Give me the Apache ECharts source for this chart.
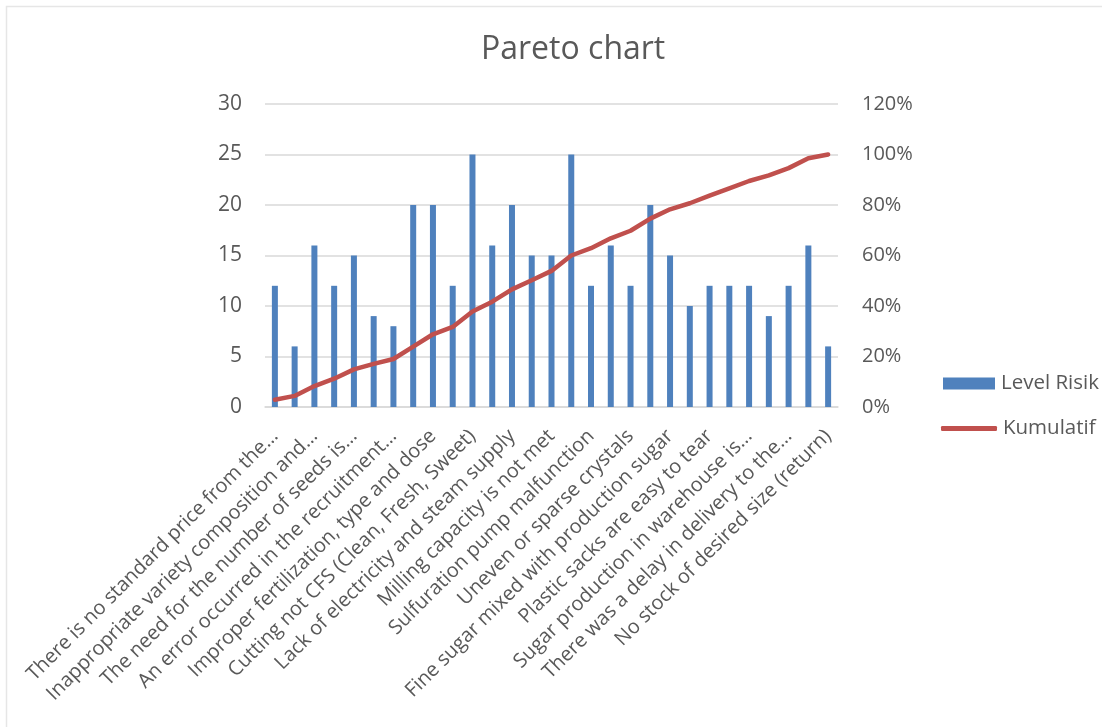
<!DOCTYPE html>
<html>
<head>
<meta charset="utf-8">
<script src="https://cdn.jsdelivr.net/npm/echarts@6.0.0/dist/echarts.min.js"></script>
<style>
  html, body { margin: 0; padding: 0; background: #fff; }
  #chart { width: 1102px; height: 727px; }
</style>
</head>
<body>
<div id="chart"></div>
<script>
;(function() {
  'use strict'

  // risk causes, only every other one has its label printed on the axis
  var categories = [
    'There is no standard price from the…',
    'Sugarcane supply is not continuous',
    'Inappropriate variety composition and…',
    'Late planting schedule',
    'The need for the number of seeds is…',
    'Pest and disease attack',
    'An error occurred in the recruitment…',
    'Cane transport is delayed',
    'Improper fertilization, type and dose',
    'Harvest labour shortage',
    'Cutting not CFS (Clean, Fresh, Sweet)',
    'Cane trash content is high',
    'Lack of electricity and steam supply',
    'Machine breakdown in the mill',
    'Milling capacity is not met',
    'Boiler pressure drops',
    'Sulfuration pump malfunction',
    'Juice purification is not optimal',
    'Uneven or sparse crystals',
    'Evaporator scaling',
    'Fine sugar mixed with production sugar',
    'Centrifuge malfunction',
    'Plastic sacks are easy to tear',
    'Packaging weight is not accurate',
    'Sugar production in warehouse is…',
    'Warehouse humidity is high',
    'There was a delay in delivery to the…',
    'Truck availability is limited',
    'No stock of desired size (return)',
  ]

  var levelRisik = [12, 6, 16, 12, 15, 9, 8, 20, 20, 12, 25, 16, 20, 15, 15, 25, 12, 16, 12, 20, 15, 10, 12, 12, 12, 9, 12, 16, 6]

  // cumulative share in percent
  var kumulatif = [2.9, 4.4, 8.3, 11.2, 14.9, 17.1, 19.0, 23.9, 28.8, 31.7, 37.8, 41.7, 46.6, 50.2, 53.9, 60.0, 62.9, 66.8, 69.8, 74.6, 78.3, 80.7, 83.7, 86.6, 89.5, 91.7, 94.6, 98.5, 100]

  var leftTicks = { min: 0, max: 30, interval: 5 }
  var rightTicks = { min: 0, max: 120, interval: 20 }

  var textColor = '#595959'
  var gridColor = '#d9d9d9'
  var barColor = '#4f81bd'
  var lineColor = '#c0504d'
  var font = '"Open Sans", "DejaVu Sans", sans-serif'

  var chart = echarts.init(document.getElementById('chart'), null, { renderer: 'canvas' })

  var legendText = { fontFamily: font, fontSize: 20.5, color: textColor, padding: [0, 0, 0, 1] }

  var option = {
    animation: false,
    backgroundColor: '#fff',
    textStyle: { fontFamily: font, color: textColor },
    title: {
      text: 'Pareto chart',
      left: 476,
      top: 29,
      textStyle: { fontFamily: font, fontSize: 32, fontWeight: 'normal', color: textColor },
    },
    legend: [
      {
        left: 938,
        top: 368,
        itemWidth: 52,
        itemHeight: 12,
        icon: 'rect',
        textStyle: legendText,
        data: ['Level Risik'],
      },
      {
        left: 936,
        top: 413,
        itemWidth: 56,
        itemHeight: 5,
        icon: 'roundRect',
        textStyle: legendText,
        data: ['Kumulatif'],
      },
    ],
    grid: { left: 265, right: 264, top: 104, bottom: 320, containLabel: false },
    xAxis: {
      type: 'category',
      data: categories,
      boundaryGap: true,
      axisLine: { lineStyle: { color: gridColor, width: 1.5 } },
      axisTick: { show: false },
      axisLabel: {
        interval: 1,
        rotate: 45,
        margin: 26,
        fontFamily: font,
        fontSize: 20,
        color: textColor,
      },
    },
    yAxis: [
      {
        type: 'value',
        min: leftTicks.min,
        max: leftTicks.max,
        interval: leftTicks.interval,
        axisLine: { show: false },
        axisTick: { show: false },
        splitLine: { lineStyle: { color: gridColor, width: 1.5 } },
        axisLabel: { margin: 23, fontFamily: font, fontSize: 21, color: textColor },
      },
      {
        type: 'value',
        min: rightTicks.min,
        max: rightTicks.max,
        interval: rightTicks.interval,
        axisLine: { show: false },
        axisTick: { show: false },
        splitLine: { show: false },
        axisLabel: { margin: 24, fontFamily: font, fontSize: 20, color: textColor, formatter: '{value}%' },
      },
    ],
    graphic: [
      {
        type: 'polyline',
        silent: true,
        shape: { points: [[6.5, 727], [6.5, 6.5], [1102, 6.5]] },
        style: { stroke: '#e6e6e6', lineWidth: 1.5, fill: null },
      },
    ],
    series: [
      {
        name: 'Level Risik',
        type: 'bar',
        data: levelRisik,
        barWidth: 6,
        itemStyle: { color: barColor },
      },
      {
        name: 'Kumulatif',
        type: 'line',
        yAxisIndex: 1,
        data: kumulatif,
        symbol: 'none',
        smooth: false,
        lineStyle: { color: lineColor, width: 4.5, cap: 'round', join: 'round' },
        itemStyle: { color: lineColor },
      },
    ],
  }

  chart.setOption(option)
})()
</script>
</body>
</html>
